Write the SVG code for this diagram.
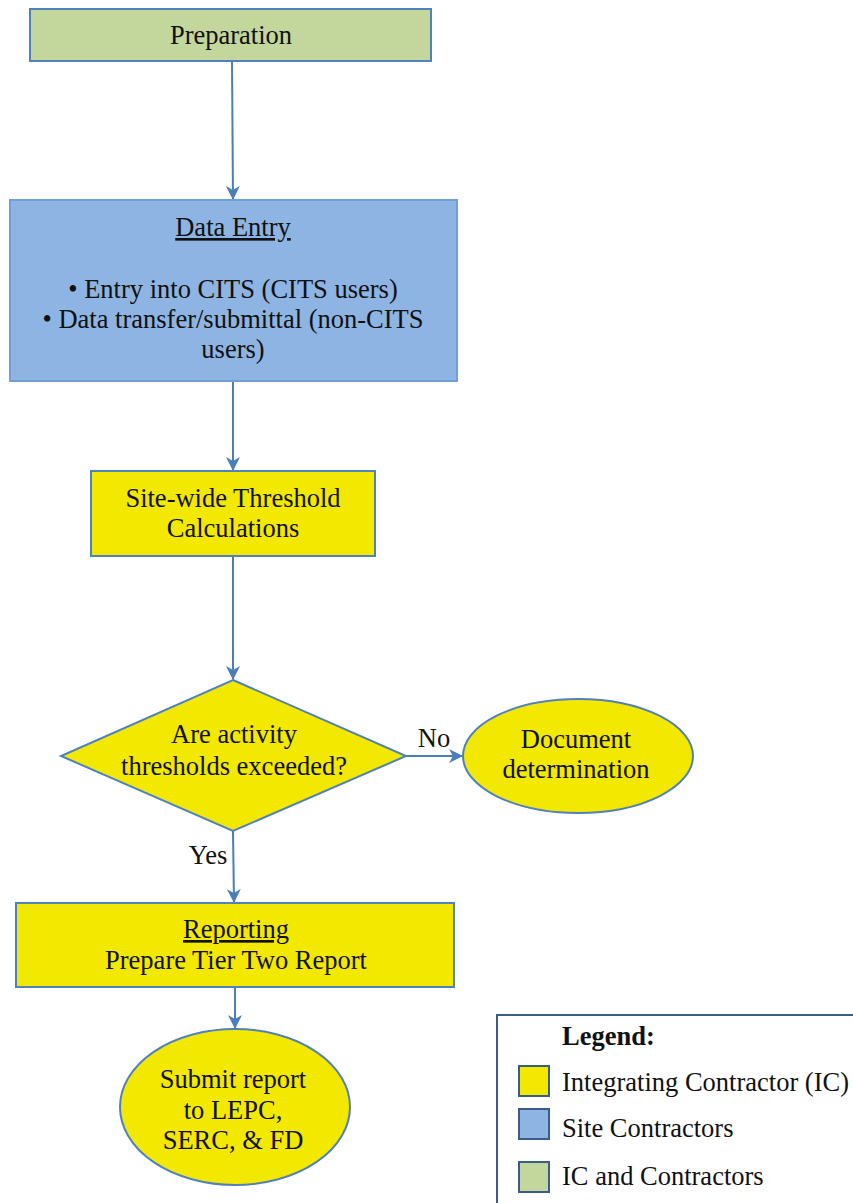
<svg xmlns="http://www.w3.org/2000/svg" width="853" height="1203" viewBox="0 0 853 1203">
<style>
text{font-family:"Liberation Serif","Times New Roman",serif;font-size:26.5px;fill:#111;text-anchor:middle}
.y{fill:#f3e800;stroke:#4f81bd;stroke-width:2}
.b{fill:#8db4e2;stroke:#6f9fd8;stroke-width:2}
.g{fill:#c3d69b;stroke:#4f81bd;stroke-width:2}
.c{stroke:#4a7ebb;stroke-width:2;fill:none}
.lg{text-anchor:start}
</style>
<defs>
<marker id="ah" viewBox="0 0 14 14" refX="13" refY="7" markerWidth="14" markerHeight="14" markerUnits="userSpaceOnUse" orient="auto">
<path d="M0,0 L14,7 L0,14 L4,7 Z" fill="#4a7ebb"/>
</marker>
</defs>
<g id="connectors">
<path class="c" d="M232,61 L233,199" marker-end="url(#ah)"/>
<path class="c" d="M233,381 L233,470" marker-end="url(#ah)"/>
<path class="c" d="M233,556 L233,679" marker-end="url(#ah)"/>
<path class="c" d="M406,756 L462,756" marker-end="url(#ah)"/>
<path class="c" d="M233,831 L234,902" marker-end="url(#ah)"/>
<path class="c" d="M235,987 L235,1028" marker-end="url(#ah)"/>
<text x="434" y="747">No</text>
<text x="208" y="864">Yes</text>
</g>
<g id="preparation">
<rect class="g" x="30" y="9" width="401" height="52"/>
<text x="231" y="44">Preparation</text>
</g>
<g id="data-entry">
<rect class="b" x="10" y="200" width="447" height="181"/>
<text x="233" y="236" text-decoration="underline">Data Entry</text>
<text x="233" y="298">• Entry into CITS (CITS users)</text>
<text x="233" y="328">• Data transfer/submittal (non-CITS</text>
<text x="233" y="358">users)</text>
</g>
<g id="threshold-calc">
<rect class="y" x="91" y="471" width="284" height="85"/>
<text x="233" y="507">Site-wide Threshold</text>
<text x="233" y="537">Calculations</text>
</g>
<g id="decision">
<polygon class="y" points="233,680 406,756 233,831 61,756"/>
<text x="234" y="743">Are activity</text>
<text x="234" y="775">thresholds exceeded?</text>
</g>
<g id="document">
<ellipse class="y" cx="578" cy="756" rx="115" ry="57"/>
<text x="576" y="748">Document</text>
<text x="576" y="778">determination</text>
</g>
<g id="reporting">
<rect class="y" x="16" y="903" width="438" height="84"/>
<text x="236" y="938" text-decoration="underline">Reporting</text>
<text x="236" y="969">Prepare Tier Two Report</text>
</g>
<g id="submit">
<ellipse class="y" cx="235" cy="1107" rx="115" ry="78"/>
<text x="233" y="1088">Submit report</text>
<text x="233" y="1119">to LEPC,</text>
<text x="233" y="1149">SERC, &amp; FD</text>
</g>
<g id="legend">
<rect x="497" y="1015" width="360" height="200" fill="#fff" stroke="#385d8a" stroke-width="2"/>
<text class="lg" x="562" y="1045" font-weight="bold">Legend:</text>
<rect x="519" y="1066" width="30" height="30" fill="#f3e800" stroke="#385d8a" stroke-width="2"/>
<text class="lg" x="562" y="1091">Integrating Contractor (IC)</text>
<rect x="519" y="1109" width="30" height="30" fill="#8db4e2" stroke="#385d8a" stroke-width="2"/>
<text class="lg" x="562" y="1137">Site Contractors</text>
<rect x="519" y="1162" width="30" height="30" fill="#c3d69b" stroke="#385d8a" stroke-width="2"/>
<text class="lg" x="562" y="1185">IC and Contractors</text>
</g>
</svg>
